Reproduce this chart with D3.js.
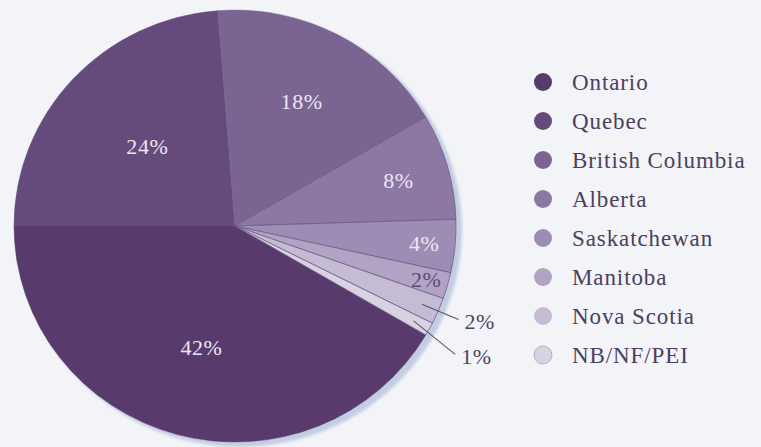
<!DOCTYPE html>
<html>
<head>
<meta charset="utf-8">
<script src="https://cdn.jsdelivr.net/npm/d3@7"></script>
<style>
  html, body { margin: 0; padding: 0; background: #f3f4f8; }
  svg { display: block; }
  svg text { font-family: "Liberation Serif", "DejaVu Serif", "Times New Roman", serif; }
</style>
</head>
<body>
<svg id="chart" width="761" height="447"></svg>
<script>
// Provincial shares, in legend order
const provinces = ["Ontario", "Quebec", "British Columbia", "Alberta",
                   "Saskatchewan", "Manitoba", "Nova Scotia", "NB/NF/PEI"];
const shares = [42, 24, 18, 8, 4, 2, 2, 1];
const shareLabels = ["42%", "24%", "18%", "8%", "4%", "2%", "2%", "1%"];
const palette = ["#583b6c", "#654b7b", "#7a6492", "#8c78a3",
                 "#9d8db4", "#b0a3c4", "#c5bbd5", "#d8d2e3"];

const svg = d3.select("#chart");
const W = 761, H = 447;
svg.append("rect").attr("width", W).attr("height", H).attr("fill", "#f3f4f8");

const cx = 235, cy = 226, R = 221, squash = 216 / 221;
const data = provinces.map((p, i) => ({ name: p, value: shares[i], label: shareLabels[i], i }));

const ontarioSpan = shares[0] / d3.sum(shares) * 2 * Math.PI;
const start = 1.5 * Math.PI - ontarioSpan;   // Ontario closes at 9 o'clock
const pie = d3.pie().value(d => d.value).sort(null)
  .startAngle(start).endAngle(start + 2 * Math.PI);
const arcs = pie(data);
const arc = d3.arc().innerRadius(0).outerRadius(R);

const color = d3.scaleOrdinal().domain(provinces).range(palette);

// soft drop shadow behind the disc
const defs = svg.append("defs");
defs.append("filter").attr("id", "soft").attr("x", "-10%").attr("y", "-10%")
  .attr("width", "120%").attr("height", "120%")
  .append("feGaussianBlur").attr("stdDeviation", 1.6);

svg.append("ellipse")
  .attr("cx", cx + 5).attr("cy", cy + 4)
  .attr("rx", R + 1).attr("ry", R * squash + 1)
  .attr("fill", "#c3cde2")
  .attr("filter", "url(#soft)");

const g = svg.append("g").attr("transform", `translate(${cx},${cy}) scale(1,${squash})`);

g.selectAll("path.slice").data(arcs).enter().append("path")
  .attr("class", "slice")
  .attr("d", arc)
  .attr("fill", d => color(d.data.name))
  .attr("stroke", d => d.index >= 3 ? "#6e5e86" : color(d.data.name))
  .attr("stroke-width", d => d.index >= 3 ? 0.8 : 0.5)
  .attr("stroke-linejoin", "round");

// point on the (squashed) disc at a given angle and radius
function pt(angle, r) {
  return [cx + r * Math.sin(angle), cy - r * Math.cos(angle) * squash];
}
const mid = d => (d.startAngle + d.endAngle) / 2;

// inside labels for the larger slices
const insideFrac = [0.58, 0.54, 0.65, 0.77, 0.86, 0.9];
const inside = arcs.filter(d => d.index < 6);
svg.selectAll("text.inlab").data(inside).enter().append("text")
  .attr("class", "inlab")
  .attr("x", d => pt(mid(d), R * insideFrac[d.index])[0])
  .attr("y", d => pt(mid(d), R * insideFrac[d.index])[1])
  .attr("dy", "0.35em")
  .attr("text-anchor", "middle")
  .attr("font-size", 22)
  .attr("letter-spacing", 0.6)
  .attr("fill", d => d.index === 5 ? "#5b4b72" : "#ece6f2")
  .text(d => d.data.label);

// leader lines and outside labels for the two thinnest slices
const outside = arcs.filter(d => d.index >= 6);
const leaderEnd = { 6: { r: 1.1, da: 0 }, 7: { r: 1.16, da: 0.04 } };
outside.forEach(d => {
  const a = mid(d);
  const p0 = pt(a, R * 0.92);
  const e = leaderEnd[d.index];
  const p1 = pt(a + e.da, R * e.r);
  svg.append("line")
    .attr("x1", p0[0]).attr("y1", p0[1])
    .attr("x2", p1[0]).attr("y2", p1[1])
    .attr("stroke", "#5e5470").attr("stroke-width", 1.1);
  svg.append("text")
    .attr("x", p1[0] + 6).attr("y", p1[1] + 2)
    .attr("dy", "0.35em")
    .attr("font-size", 22)
    .attr("letter-spacing", 0.6)
    .attr("fill", "#4e4560")
    .text(d.data.label);
});

// legend
const legendY = d3.scalePoint().domain(provinces).range([82, 355]);
const legend = svg.append("g");
const rows = legend.selectAll("g").data(provinces).enter().append("g")
  .attr("transform", d => `translate(543,${legendY(d)})`);
rows.append("circle")
  .attr("r", 9)
  .attr("fill", d => color(d))
  .attr("stroke", (d, i) => i === provinces.length - 1 ? "#a99fbd" : "none")
  .attr("stroke-width", 0.8);
rows.append("text")
  .attr("x", 29).attr("dy", "0.33em")
  .attr("font-size", 23)
  .attr("letter-spacing", 0.9)
  .attr("fill", "#4a4060")
  .text(d => d);
</script>
</body>
</html>
